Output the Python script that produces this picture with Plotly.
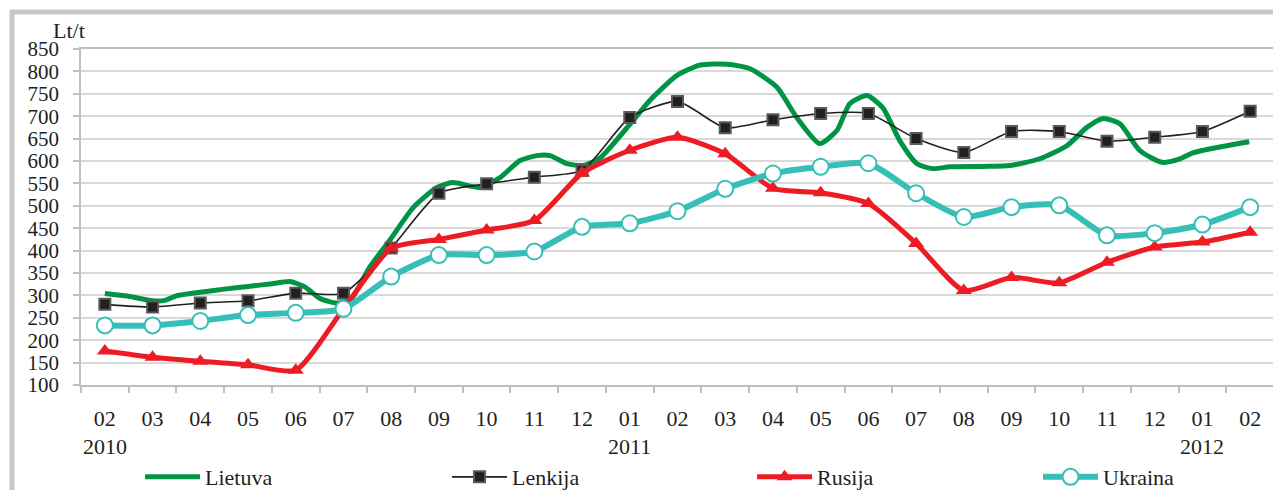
import plotly.graph_objects as go

# ---------------- data ----------------
months = ["02", "03", "04", "05", "06", "07", "08", "09", "10", "11", "12",
          "01", "02", "03", "04", "05", "06", "07", "08", "09", "10", "11", "12",
          "01", "02"]
years = ["2010", "2011", "2012"]
year_pos = [0, 11, 23]

lenkija = [280, 274, 283, 288, 305, 305, 406, 528, 549, 564, 579,
           697, 733, 674, 692, 706, 706, 650, 619, 666, 666, 644, 653, 666, 711]
rusija = [176, 162, 153, 145, 133, 270, 405, 425, 446, 467, 573,
          624, 653, 616, 539, 529, 505, 416, 311, 340, 328, 374, 408, 419, 441]
ukraina = [233, 233, 243, 256, 261, 270, 342, 390, 390, 398, 453,
           461, 488, 538, 572, 587, 595, 528, 475, 497, 501, 434, 439, 458, 497]

# Lietuva is drawn with finer (sub-monthly) readings, positions in month index
lietuva_t = [0.0, 0.5, 1.0, 1.26, 1.5, 2.0, 2.5, 3.0, 3.5, 3.88, 4.19, 4.51, 4.86,
             5.14, 5.55, 5.97, 6.46, 6.96, 7.29, 7.86, 8.28, 8.70, 9.05, 9.33,
             9.68, 10.02, 10.38, 11.01, 11.42, 11.99, 12.47, 13.04, 13.52, 14.08,
             14.50, 14.98, 15.34, 15.61, 15.97, 16.30, 16.66, 17.02, 17.35, 17.71,
             18.40, 18.97, 19.59, 20.16, 20.58, 20.92, 21.27, 21.69, 22.15, 22.53,
             22.80, 23.30, 23.98]
lietuva_v = [304, 298, 288, 289, 299, 307, 314, 320, 326, 331, 319, 293, 283,
             289, 363, 423, 496, 541, 552, 541, 563, 601, 612, 612,
             594, 590, 607, 683, 735, 791, 814, 816, 806, 765,
             697, 639, 668, 728, 746, 719, 645, 594, 583, 587,
             588, 590, 605, 634, 675, 695, 683, 623, 597, 605,
             618, 630, 643]

idx = list(range(len(months)))

FONT = "Liberation Serif"
TXT = "#231f20"
GREEN = "#009444"
RED = "#ed1c24"
TEAL = "#36bfb6"
GRID = "#d9d9d9"
AXIS = "#bfbfbf"
FS = 21
FSL = 22

fig = go.Figure()

fig.add_trace(go.Scatter(
    x=lietuva_t, y=lietuva_v, name="Lietuva", mode="lines", legend="legend",
    line=dict(color=GREEN, width=5, shape="spline", smoothing=0.6)))

fig.add_trace(go.Scatter(
    x=idx, y=lenkija, name="Lenkija", mode="lines+markers", legend="legend2",
    line=dict(color="#231f20", width=1.6, shape="spline", smoothing=0.6),
    marker=dict(symbol="square", size=11, color="#231f20",
                line=dict(color="#5a5a5c", width=2))))

fig.add_trace(go.Scatter(
    x=idx, y=rusija, name="Rusija", mode="lines+markers", legend="legend3",
    line=dict(color=RED, width=5, shape="spline", smoothing=0.6),
    marker=dict(symbol="triangle-up", size=14, color=RED)))

fig.add_trace(go.Scatter(
    x=idx, y=ukraina, name="Ukraina", mode="lines+markers", legend="legend4",
    line=dict(color=TEAL, width=6, shape="spline", smoothing=0.6),
    marker=dict(symbol="circle", size=16, color="white",
                line=dict(color=TEAL, width=2))))

annotations = []
for yr, p in zip(years, year_pos):
    annotations.append(dict(x=p, y=-0.1845, xref="x", yref="paper", text=yr,
                            showarrow=False, yanchor="middle", xanchor="center",
                            font=dict(family=FONT, size=FSL, color=TXT)))
annotations.append(dict(x=-0.01, y=1.0536, xref="paper", yref="paper", text="Lt/t",
                        showarrow=False, yanchor="middle", xanchor="center",
                        font=dict(family=FONT, size=FSL, color=TXT)))


def leg(xp):
    return dict(orientation="h", x=xp, xanchor="left", y=-0.274, yanchor="middle",
                font=dict(family=FONT, size=FSL, color=TXT), itemwidth=55,
                bgcolor="rgba(0,0,0,0)", borderwidth=0)


# the page body adds an 8px offset, so the figure is 8px smaller than the window
fig.update_layout(
    width=1273, height=482,
    margin=dict(l=73, r=7, t=41, b=105, autoexpand=False),
    paper_bgcolor="white", plot_bgcolor="white",
    font=dict(family=FONT, size=FS, color=TXT),
    showlegend=True,
    legend=leg(0.0495),
    legend2=leg(0.3068),
    legend3=leg(0.5625),
    legend4=leg(0.8022),
    annotations=annotations,
    shapes=[
        dict(type="line", xref="paper", yref="paper", x0=-0.0578, x1=1.01,
             y0=1.110, y1=1.110, line=dict(color="#c8c8c8", width=5)),
        dict(type="line", xref="paper", yref="paper", x0=-0.0578, x1=-0.0578,
             y0=1.117, y1=-0.35, line=dict(color="#c8c8c8", width=5)),
    ],
)

fig.update_xaxes(
    range=[-0.5, len(months) - 0.5],
    tickmode="array", tickvals=idx, ticktext=months, ticks="",
    showgrid=False, zeroline=False,
    showline=True, linecolor=AXIS, linewidth=1.5, mirror=True,
    minor=dict(tickmode="array", tickvals=[i - 0.5 for i in range(len(months) + 1)],
               ticks="outside", ticklen=6, tickcolor=AXIS, tickwidth=1.5, showgrid=False),
    tickfont=dict(family=FONT, size=FSL, color=TXT),
    ticklabelstandoff=13,
)

fig.update_yaxes(
    range=[100, 850], tickmode="array", tickvals=list(range(100, 851, 50)),
    ticks="outside", ticklen=6, tickcolor=AXIS, tickwidth=1.5,
    showgrid=True, gridcolor=GRID, gridwidth=2,
    zeroline=False, showline=True, linecolor=AXIS, linewidth=1.5, mirror=True,
    tickfont=dict(family=FONT, size=FS, color=TXT),
    ticklabelstandoff=10,
)

fig.write_html("out.html")
